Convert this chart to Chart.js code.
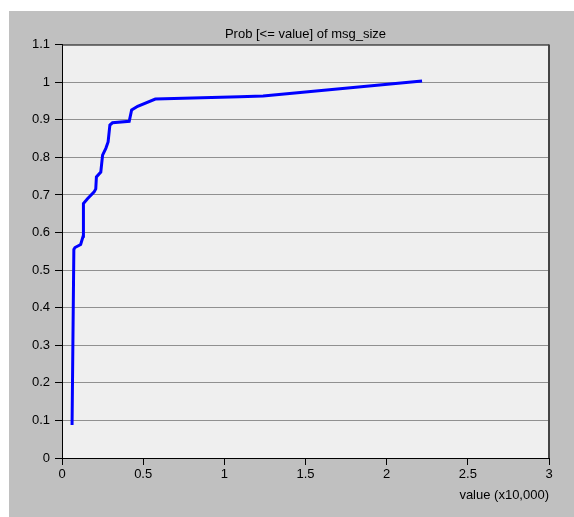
<!DOCTYPE html>
<html>
<head>
<meta charset="utf-8">
<script src="https://cdn.jsdelivr.net/npm/chart.js@4/dist/chart.umd.min.js"></script>
<style>
  html, body { margin: 0; padding: 0; background: #ffffff; }
  #wrap { width: 574px; height: 517px; }
</style>
</head>
<body>
<div id="wrap"><canvas id="c" width="574" height="517"></canvas></div>
<script>
const chartTitle = 'Prob [<= value] of msg_size';
const xAxisLabel = 'value (x10,000)';
const xValues = [0.062, 0.073, 0.080, 0.115, 0.130, 0.132, 0.157, 0.198, 0.208, 0.212, 0.239, 0.250, 0.270, 0.284, 0.295, 0.311, 0.414, 0.429, 0.466, 0.575, 1.095, 1.239, 2.218];
const yValues = [0.088, 0.555, 0.560, 0.568, 0.590, 0.677, 0.690, 0.708, 0.716, 0.748, 0.761, 0.806, 0.824, 0.841, 0.886, 0.892, 0.896, 0.926, 0.936, 0.955, 0.961, 0.963, 1.003];
const xTicks = { min: 0, max: 3, step: 0.5 };
const yTicks = { min: 0, max: 1.1, step: 0.1 };

const points = xValues.map((x, i) => ({ x: x, y: yValues[i] }));
const fmt = (v) => String(Math.round(v * 10) / 10);

const panelPlugin = {
  id: 'panel',
  beforeDraw(chart) {
    const ctx = chart.ctx;
    const a = chart.chartArea;
    ctx.save();
    ctx.fillStyle = '#c0c0c0';
    ctx.fillRect(9, 11, chart.width - 9, chart.height - 11);
    ctx.fillStyle = '#efefef';
    ctx.fillRect(a.left, a.top, a.right - a.left, a.bottom - a.top);
    ctx.restore();
  },
  afterDraw(chart) {
    const ctx = chart.ctx;
    const a = chart.chartArea;
    ctx.save();
    ctx.strokeStyle = '#222222';
    ctx.lineWidth = 1;
    ctx.beginPath();
    ctx.moveTo(a.left, a.top + 0.5);
    ctx.lineTo(a.right, a.top + 0.5);
    ctx.stroke();
    ctx.strokeStyle = '#444444';
    ctx.lineWidth = 2;
    ctx.beginPath();
    ctx.moveTo(a.right, a.top);
    ctx.lineTo(a.right, a.bottom);
    ctx.stroke();
    ctx.restore();
  }
};

const font = { family: "'Liberation Sans', Arial, sans-serif", size: 13 };

new Chart(document.getElementById('c'), {
  type: 'line',
  data: {
    datasets: [{
      data: points,
      borderColor: '#0000ff',
      borderWidth: 3,
      pointRadius: 0,
      tension: 0,
      fill: false
    }]
  },
  options: {
    responsive: false,
    animation: false,
    devicePixelRatio: 1,
    layout: { padding: { left: 0, right: 25, top: 0, bottom: 0 } },
    plugins: {
      legend: { display: false },
      tooltip: { enabled: false },
      title: {
        display: true,
        fullSize: false,
        text: chartTitle,
        color: '#000000',
        font: { family: font.family, size: 13, weight: 'normal' },
        padding: { top: 27, bottom: 2 }
      }
    },
    scales: {
      x: {
        type: 'linear',
        min: xTicks.min,
        max: xTicks.max,
        afterFit(scale) { scale.height = 59; },
        ticks: {
          stepSize: xTicks.step,
          color: '#000000',
          font: font,
          padding: 2,
          maxRotation: 0,
          callback: (v) => fmt(v)
        },
        grid: {
          drawOnChartArea: false,
          drawTicks: true,
          tickLength: 7,
          tickColor: '#000000'
        },
        border: { display: true, color: '#000000', width: 1 },
        title: {
          display: true,
          text: xAxisLabel,
          align: 'end',
          color: '#000000',
          font: font,
          padding: { top: 0, bottom: 14 }
        }
      },
      y: {
        type: 'linear',
        min: yTicks.min,
        max: yTicks.max,
        afterFit(scale) { scale.width = 62; },
        ticks: {
          stepSize: yTicks.step,
          color: '#000000',
          font: font,
          padding: 5,
          callback: (v) => fmt(v)
        },
        grid: {
          drawOnChartArea: true,
          color: '#909090',
          lineWidth: 1,
          drawTicks: true,
          tickLength: 7,
          tickColor: '#000000'
        },
        border: { display: true, color: '#000000', width: 1 }
      }
    }
  },
  plugins: [panelPlugin]
});
</script>
</body>
</html>
